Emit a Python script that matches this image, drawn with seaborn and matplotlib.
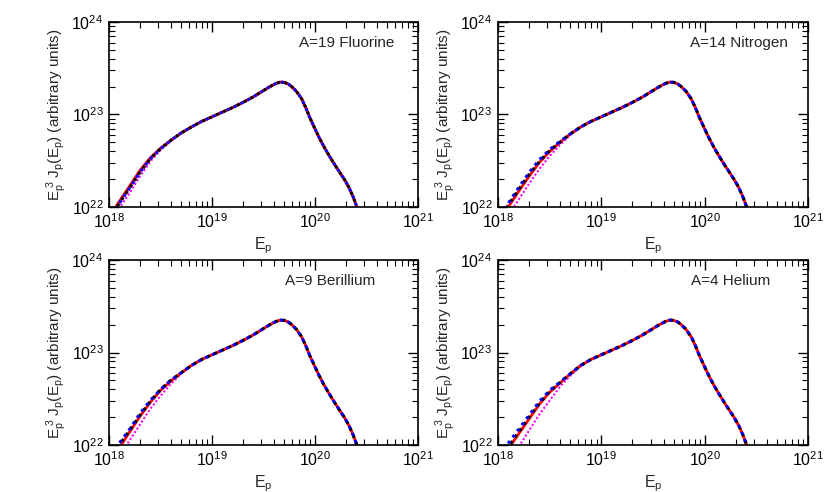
import numpy as np
import pandas as pd
import matplotlib
matplotlib.use("Agg")
import matplotlib.pyplot as plt
import matplotlib.ticker as mticker
import seaborn as sns

# log10(E) grid for the low-energy part (series differ here) and shared tail
low_logE = [18.0, 18.1, 18.2, 18.3, 18.4, 18.5, 18.6, 18.7, 18.8]
tail_logE = [18.9, 19.0, 19.1, 19.2, 19.3, 19.4, 19.48, 19.56, 19.62, 19.66, 19.70,
             19.74, 19.77, 19.82, 19.87, 19.91, 19.95, 20.0, 20.04, 20.09, 20.14,
             20.19, 20.24, 20.29, 20.33, 20.37, 20.41, 20.45]
tail_logY = [22.925, 22.975, 23.025, 23.075, 23.13, 23.19, 23.245, 23.30, 23.335, 23.35, 23.348,
             23.33, 23.305, 23.25, 23.17, 23.075, 22.965, 22.845, 22.75, 22.645, 22.55,
             22.46, 22.375, 22.29, 22.21, 22.11, 21.99, 21.87]

panel_names = ["A=19 Fluorine", "A=14 Nitrogen", "A=9 Berillium", "A=4 Helium"]

# low-energy log10(E^3 J) per panel: red, black, blue, magenta
fluorine_red = [21.89, 22.06, 22.225, 22.395, 22.53, 22.635, 22.72, 22.80, 22.865]
fluorine_black = [21.87, 22.04, 22.205, 22.375, 22.52, 22.63, 22.72, 22.80, 22.865]
fluorine_blue = [21.87, 22.04, 22.205, 22.375, 22.52, 22.63, 22.72, 22.80, 22.865]
fluorine_magenta = [21.83, 21.99, 22.15, 22.33, 22.49, 22.615, 22.715, 22.80, 22.865]

nitrogen_red = [21.83, 22.00, 22.17, 22.33, 22.48, 22.60, 22.70, 22.79, 22.865]
nitrogen_black = [21.85, 22.02, 22.19, 22.35, 22.49, 22.61, 22.70, 22.79, 22.865]
nitrogen_blue = [21.87, 22.04, 22.21, 22.37, 22.51, 22.62, 22.71, 22.79, 22.865]
nitrogen_magenta = [21.74, 21.91, 22.08, 22.25, 22.41, 22.55, 22.67, 22.78, 22.86]

berillium_red = [21.81, 21.97, 22.14, 22.31, 22.46, 22.59, 22.69, 22.78, 22.86]
berillium_black = [21.83, 22.00, 22.16, 22.32, 22.47, 22.60, 22.70, 22.78, 22.86]
berillium_blue = [21.85, 22.02, 22.17, 22.34, 22.48, 22.60, 22.70, 22.78, 22.86]
berillium_magenta = [21.72, 21.88, 22.05, 22.22, 22.39, 22.53, 22.66, 22.77, 22.86]

helium_red = [21.79, 21.96, 22.12, 22.28, 22.44, 22.57, 22.67, 22.77, 22.86]
helium_black = [21.81, 21.98, 22.14, 22.30, 22.45, 22.58, 22.675, 22.77, 22.86]
helium_blue = [21.84, 22.02, 22.17, 22.32, 22.47, 22.59, 22.68, 22.77, 22.86]
helium_magenta = [21.64, 21.81, 21.98, 22.155, 22.33, 22.48, 22.63, 22.75, 22.85]

panels = [
    (fluorine_red, fluorine_black, fluorine_blue, fluorine_magenta),
    (nitrogen_red, nitrogen_black, nitrogen_blue, nitrogen_magenta),
    (berillium_red, berillium_black, berillium_blue, berillium_magenta),
    (helium_red, helium_black, helium_blue, helium_magenta),
]
label_x = [0.925, 0.935, 0.862, 0.877]

sns.set_style("ticks")
plt.rcParams["font.family"] = ["Liberation Sans", "DejaVu Sans"]
plt.rcParams["mathtext.fontset"] = "custom"
plt.rcParams["mathtext.rm"] = "Liberation Sans"
plt.rcParams["mathtext.it"] = "Liberation Sans:italic"
plt.rcParams["mathtext.default"] = "regular"

fig = plt.figure(figsize=(8.34, 4.92), dpi=100)
rects = [
    [0.1307, 0.5793, 0.3705, 0.376],
    [0.5971, 0.5793, 0.3717, 0.376],
    [0.1307, 0.0955, 0.3705, 0.376],
    [0.5971, 0.0955, 0.3717, 0.376],
]

# (colour, linestyle, linewidth, zorder) for red, black, blue, magenta
styles = [
    ("#ff0000", "-", 2.0, 2),
    ("black", (0, (1, 1.5)), 2.2, 3),
    ("#0000ff", (1.2, (1, 1.5)), 2.2, 4),
    ("#ff00ff", (0, (1, 1)), 1.5, 1),
]

for i, (rect, series) in enumerate(zip(rects, panels)):
    ax = fig.add_axes(rect)
    for vals, (col, ls, lw, z) in zip(series, styles):
        df = pd.DataFrame({
            "E": 10.0 ** np.array(low_logE + tail_logE),
            "F": 10.0 ** np.array(vals + tail_logY),
        })
        sns.lineplot(data=df, x="E", y="F", color=col, linestyle=ls,
                     linewidth=lw, zorder=z, ax=ax, sort=True)
    ax.set_xscale("log")
    ax.set_yscale("log")
    ax.set_xlim(1e18, 1e21)
    ax.set_ylim(1e22, 1e24)
    ax.xaxis.set_major_locator(mticker.LogLocator(base=10, numticks=10))
    ax.xaxis.set_minor_locator(mticker.LogLocator(base=10, subs=np.arange(2, 10), numticks=20))
    ax.yaxis.set_major_locator(mticker.LogLocator(base=10, numticks=10))
    ax.yaxis.set_minor_locator(mticker.LogLocator(base=10, subs=np.arange(2, 10), numticks=20))
    ax.yaxis.set_minor_formatter(mticker.NullFormatter())
    ax.xaxis.set_minor_formatter(mticker.NullFormatter())
    ax.tick_params(which="both", direction="in", top=True, right=True,
                   labelsize=11.5, colors="black", pad=4)
    ax.tick_params(which="major", length=7, width=1)
    ax.tick_params(which="minor", length=4, width=0.8)
    for sp in ax.spines.values():
        sp.set_linewidth(1.2)
        sp.set_color("black")
    ax.set_xlabel(r"E$_p$", fontsize=11.5, labelpad=3)
    ax.set_ylabel(r"E$_p^{\ 3}$ J$_p$(E$_p$) (arbitrary units)", fontsize=11, labelpad=2)
    ax.text(label_x[i], 0.885, panel_names[i], transform=ax.transAxes,
            ha="right", va="center", fontsize=11)

fig.savefig("out.png", dpi=100)
